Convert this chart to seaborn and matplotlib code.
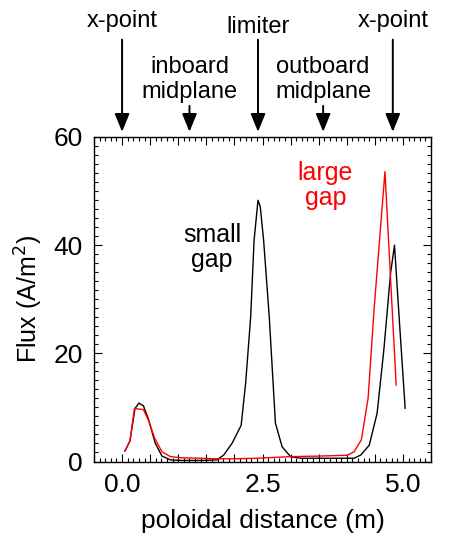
import numpy as np
import pandas as pd
import matplotlib
matplotlib.use('Agg')
import matplotlib.pyplot as plt
from matplotlib.ticker import MultipleLocator, AutoMinorLocator, FuncFormatter
import seaborn as sns

# Flux along the poloidal distance
small_x = [0.05, 0.14, 0.23, 0.30, 0.38, 0.47, 0.59, 0.71, 0.86, 1.04, 1.25, 1.45, 1.69,
           1.81, 1.96, 2.12, 2.20, 2.29, 2.35, 2.42, 2.46, 2.52, 2.62, 2.73, 2.85, 3.00,
           3.18, 3.50, 3.80, 4.13, 4.25, 4.40, 4.54, 4.66, 4.78, 4.85, 4.94, 5.04]
small_y = [1.9, 3.8, 9.8, 10.8, 10.3, 7.8, 3.4, 1.0, 0.3, 0.2, 0.2, 0.2, 0.3,
           1.2, 3.4, 6.7, 14.5, 26.8, 40.9, 48.3, 47.1, 40.9, 26.8, 7.1, 2.7, 0.9,
           0.6, 0.6, 0.6, 0.6, 1.2, 3.0, 8.9, 20.6, 34.8, 40.0, 25.5, 9.8]

large_x = [0.05, 0.14, 0.22, 0.30, 0.38, 0.47, 0.58, 0.71, 0.86, 1.04, 1.40, 1.69, 1.98,
           2.40, 3.00, 3.50, 4.01, 4.13, 4.26, 4.38, 4.49, 4.68, 4.88]
large_y = [1.9, 3.8, 9.8, 9.7, 9.6, 7.6, 4.3, 1.8, 0.9, 0.7, 0.6, 0.5, 0.5,
           0.6, 0.9, 1.0, 1.15, 1.8, 4.0, 11.7, 28.6, 53.6, 14.1]

# markers along the top of the plot
mark_x = [0.0, 1.2, 2.42, 3.58, 4.82]
mark_names = ['x-point', 'inboard\nmidplane', 'limiter', 'outboard\nmidplane', 'x-point']
mark_long = [True, False, True, False, True]

sns.set_style('ticks')
plt.rcParams['font.family'] = ['Liberation Sans', 'DejaVu Sans']
plt.rcParams.update({'text.color': 'black', 'axes.labelcolor': 'black',
                     'xtick.color': 'black', 'ytick.color': 'black',
                     'axes.edgecolor': 'black'})

fig = plt.figure(figsize=(4.57, 5.38), dpi=100)
ax = fig.add_axes([94 / 457, 1 - 461.5 / 538, 337 / 457, 324.5 / 538])

sns.lineplot(x=small_x, y=small_y, color='black', linewidth=1.0, sort=False, ax=ax)
sns.lineplot(x=large_x, y=large_y, color='red', linewidth=1.0, sort=False, ax=ax)

ax.set_xlim(-0.5, 5.5)
ax.set_ylim(0, 60)

ax.xaxis.set_major_locator(MultipleLocator(0.5))
ax.xaxis.set_minor_locator(MultipleLocator(0.1))
ax.xaxis.set_major_formatter(FuncFormatter(
    lambda v, p: '%.1f' % v if abs(v / 2.5 - round(v / 2.5)) < 1e-6 else ''))
ax.yaxis.set_major_locator(MultipleLocator(20))
ax.yaxis.set_minor_locator(AutoMinorLocator(12))
ax.tick_params(which='both', direction='in', top=True, right=True, width=0.8,
               labelsize=19, pad=8)
ax.tick_params(which='major', length=6)
ax.tick_params(which='minor', length=3)
for s in ax.spines.values():
    s.set_linewidth(1.0)

ax.set_xlabel('poloidal distance (m)', fontsize=19, labelpad=9)
ax.set_ylabel('Flux (A/m$^2$)', fontsize=18, labelpad=6)

ax.text(1.6, 39.5, 'small\ngap', fontsize=18, ha='center', va='center', linespacing=1.05)
ax.text(3.62, 51.1, 'large\ngap', fontsize=18, ha='center', va='center', color='red',
        linespacing=1.05)

tr = ax.get_xaxis_transform()
for x, name, long in zip(mark_x, mark_names, mark_long):
    y0 = 1.30 if long else 1.096
    ax.annotate('', xy=(x, 1.016), xytext=(x, y0), xycoords=tr, textcoords=tr,
                arrowprops=dict(arrowstyle='-|>,head_length=1.1,head_width=0.45',
                                color='black', lw=1.4, shrinkA=0, shrinkB=0),
                annotation_clip=False)
    if name == 'limiter':
        ty = 1 + (137 - 33) / 324.5
    elif long:
        ty = 1 + (137 - 26.5) / 324.5
    else:
        ty = 1 + (137 - 98) / 324.5
    ax.text(x, ty, name, transform=tr, fontsize=17, ha='center', va='baseline',
            linespacing=1.15)

fig.savefig('out.png', dpi=100)
